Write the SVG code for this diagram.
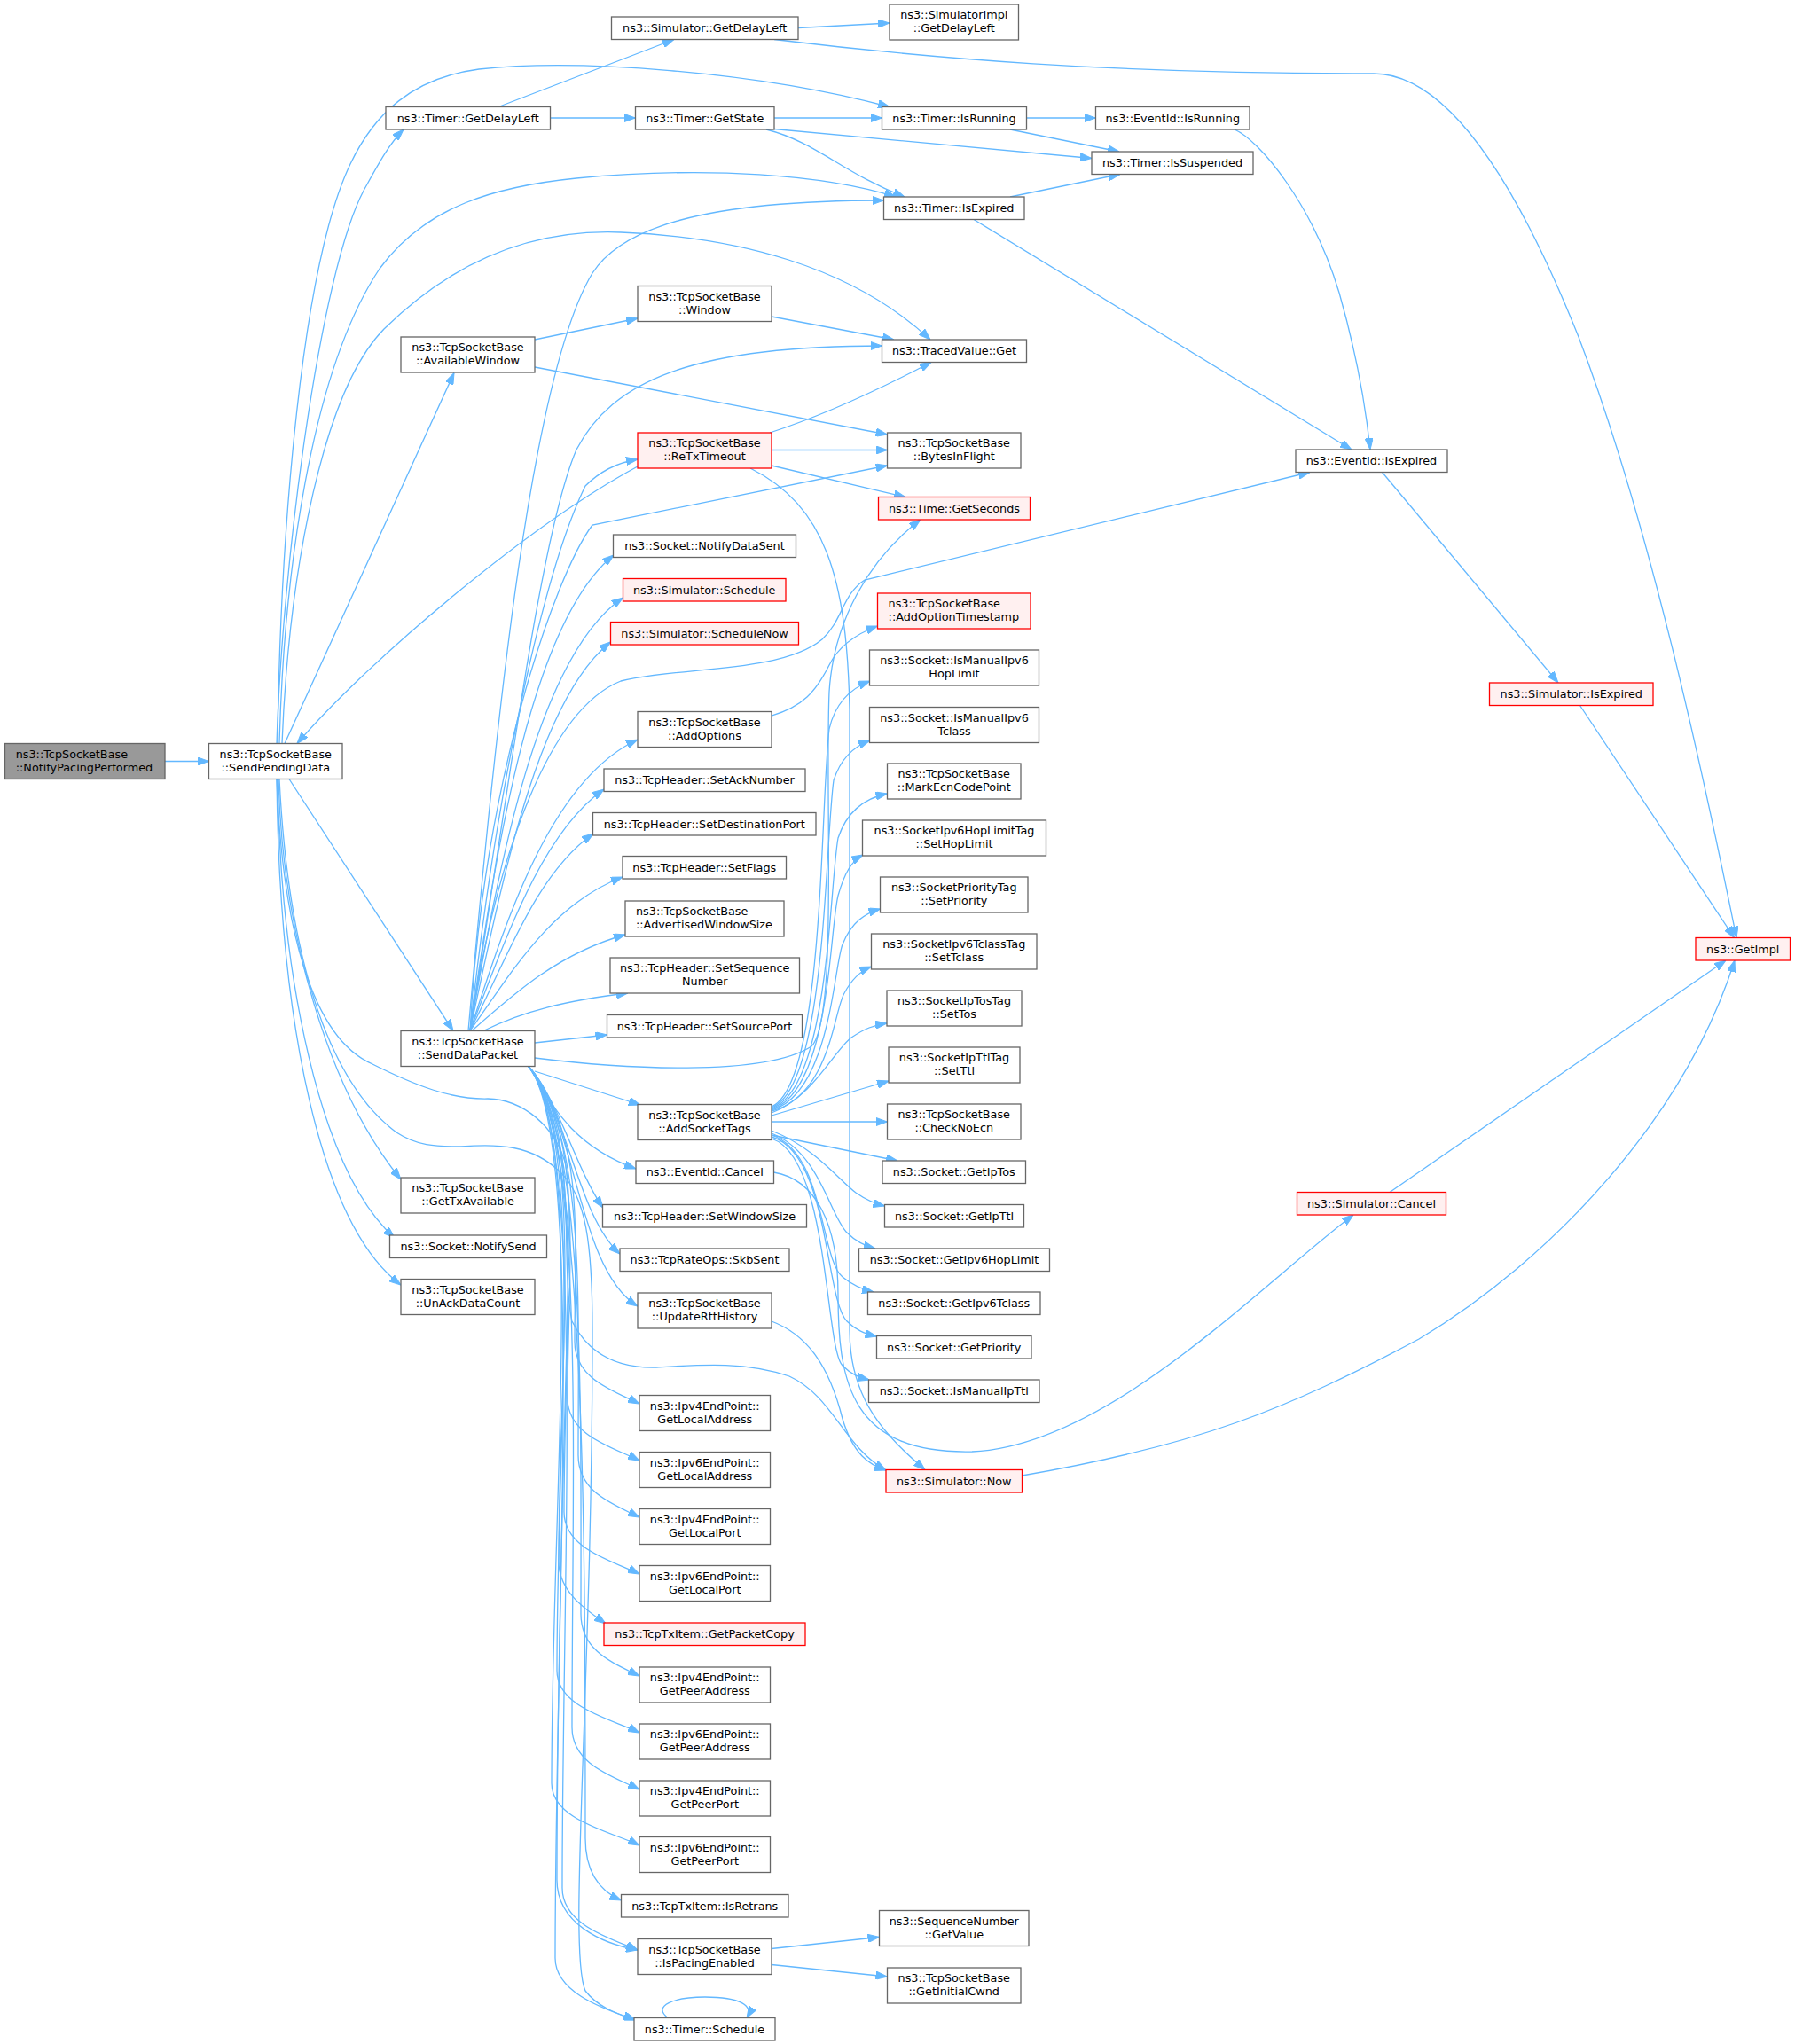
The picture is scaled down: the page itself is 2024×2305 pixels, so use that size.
<svg xmlns="http://www.w3.org/2000/svg" width="2024" height="2305" viewBox="0 0 2024 2305">
<style>
rect{stroke-width:1.3}
.node rect{fill:#ffffff;stroke:#666666}
.red rect{fill:#fff0f0;stroke:#ff0000}
.root rect{fill:#999999;stroke:#666666}
text{font-family:"DejaVu Sans","Liberation Sans",sans-serif;font-size:12.8px;text-anchor:middle;fill:#000000}
text.l{text-anchor:start}
#edges path{fill:none;stroke:#63b8ff;stroke-width:1.3;marker-end:url(#a)}
</style>
<defs>
<marker id="a" viewBox="0 0 13 9.4" refX="13" refY="4.7" markerWidth="13" markerHeight="9.4" markerUnits="userSpaceOnUse" orient="auto">
<path d="M0,0 L13,4.7 L0,9.4 z" fill="#63b8ff" stroke="#63b8ff" stroke-width="1"/>
</marker>
</defs>
<rect x="0" y="0" width="2024" height="2305" fill="#ffffff"/>
<g id="edges">
<path d="M186,858.5 L235.5,858.5"/>
<path d="M312,838.5 C 318,640 360,310 410,215 C 425,188 438,163 455,146"/>
<path d="M313,838.5 C 316,600 340,300 395,185 C 422,128 465,88 540,78 C 650,66 850,80 1003,120.5"/>
<path d="M315,838.5 C 320,650 350,420 428,303 C 480,232 560,210 650,201 C 800,187 930,197 1010,222"/>
<path d="M318,838.5 C 326,640 365,440 433,371 C 510,295 600,258 700,262 C 830,267 960,300 1049,383"/>
<path d="M321,838.5 L512,420.5"/>
<path d="M326,878.5 L511,1162.5"/>
<path d="M314,878.5 C 318,1050 370,1230 452,1330"/>
<path d="M313,878.5 C 316,1100 360,1320 445,1396"/>
<path d="M312,878.5 C 315,1150 360,1380 452,1449"/>
<path d="M312,878.5 C 318,1040 350,1170 420,1200 C 470,1225 510,1240 550,1239 C 590,1240 625,1270 637,1310 C 650,1360 628,1700 628,2120 C 628,2170 680,2192 719,2199"/>
<path d="M315,878.5 C 325,1080 370,1220 447,1277 C 470,1292 490,1293 520,1293 C 560,1290 600,1290 633,1323 C 660,1350 668,1400 668,1500 C 668,1900 640,2200 660,2245 C 675,2265 700,2272 717,2278"/>
<path d="M603,383 L719,359"/>
<path d="M603,414 L1000.5,490"/>
<path d="M870,357 L1008,383"/>
<path d="M868,488 C 930,468 990,440 1050,408.5"/>
<path d="M870,507.5 L1000.5,507.5"/>
<path d="M870,525 L1021,560.5"/>
<path d="M846,528 C 930,570 955,650 958,800 L958,1500 C 958,1580 1000,1620 1043,1657.5"/>
<path d="M719,526 C 600,590 420,740 335,838.5"/>
<path d="M562,120.5 L760,44.5"/>
<path d="M620.5,133 L716.5,133"/>
<path d="M873,133 L994.5,133"/>
<path d="M873,145.5 L1231,178.5"/>
<path d="M864,146 C 920,160 950,195 1020,222"/>
<path d="M1157.5,133 L1235.5,133"/>
<path d="M1139,146 L1262,171"/>
<path d="M1139,222 L1263,196.5"/>
<path d="M1098,247.5 L1524,507"/>
<path d="M1392,146 C 1420,158 1480,230 1510,330 C 1530,400 1540,460 1545,507"/>
<path d="M1558.5,532.5 L1757,770"/>
<path d="M1781.5,795.5 L1955.5,1057.5"/>
<path d="M1567,1344.5 L1946,1083"/>
<path d="M1152.5,1664 C 1350,1630 1450,1590 1600,1510 C 1750,1420 1900,1260 1956,1083"/>
<path d="M900,31.5 L1003,26"/>
<path d="M873,44.5 C 1050,66 1250,83 1549,83 C 1640,83 1720,230 1780,380 C 1860,590 1920,870 1958,1057.5"/>
<path d="M872.5,1322 C 920,1330 945,1380 945,1460 C 945,1560 960,1640 1096,1637 C 1250,1630 1420,1450 1526,1370"/>
<path d="M870,1490 C 910,1505 935,1540 950,1600 C 962,1640 980,1652 999,1658"/>
<path d="M870,807 C 905,797 920,780 935,750 C 945,730 965,715 989.5,706"/>
<path d="M870,2197.5 L991.5,2184.5"/>
<path d="M870,2215.5 L1000.5,2229"/>
<path d="M753,2275.5 C 735,2262 760,2252 795,2252 C 835,2252 850,2262 842,2275.5"/>
<path d="M528,1162.5 C 560,800 600,420 668,308 C 700,258 790,226 996.5,226"/>
<path d="M530,1162.5 C 575,880 610,600 650,507 C 690,430 780,390 994.5,390"/>
<path d="M530,1162.5 C 560,880 615,640 660,548 C 680,528 700,521 719,518"/>
<path d="M530,1162.5 C 545,880 625,650 668,592 L1000.5,525"/>
<path d="M530,1162.5 C 560,950 600,700 692,626"/>
<path d="M530,1162.5 C 562,980 605,740 702.5,674"/>
<path d="M530,1162.5 C 565,1000 605,790 688.5,724"/>
<path d="M530,1162.5 C 560,960 620,800 700,768 C 760,752 880,760 927,721 C 950,700 950,670 975,654 L1477,532.5"/>
<path d="M530,1162.5 C 570,1040 620,880 719,834"/>
<path d="M530,1162.5 C 570,1060 610,940 681,890"/>
<path d="M530,1162.5 C 572,1080 605,985 669,940"/>
<path d="M530,1162.5 C 575,1100 620,1020 702,989"/>
<path d="M532,1162.5 C 580,1120 630,1075 705,1054"/>
<path d="M545,1162.5 C 590,1140 640,1128 708,1120"/>
<path d="M603,1176 L684.5,1167"/>
<path d="M603,1193 C 700,1205 860,1215 915,1180 C 945,1150 930,900 935,780 C 940,700 980,630 1038,586"/>
<path d="M603,1208 L722,1246"/>
<path d="M596,1202.5 C 620,1240 640,1290 717,1318"/>
<path d="M596,1202.5 C 630,1240 650,1320 680,1362"/>
<path d="M596,1202.5 C 640,1250 650,1370 699,1414"/>
<path d="M596,1202.5 C 650,1260 650,1430 719,1473"/>
<path d="M596,1202.5 C 660,1280 648,1389 648,1513 C 648,1555 691,1568 721,1583"/>
<path d="M596,1202.5 C 660,1280 640,1427 640,1577 C 640,1619 691,1632 721,1647"/>
<path d="M596,1202.5 C 660,1280 652,1465 652,1641 C 652,1683 691,1696 721,1711"/>
<path d="M596,1202.5 C 660,1280 636,1504 636,1705 C 636,1747 691,1760 721,1775"/>
<path d="M596,1202.5 C 660,1280 630,1538 630,1761 C 630,1795 660,1815 683,1831"/>
<path d="M596,1202.5 C 660,1280 655,1573 655,1820 C 655,1862 691,1875 721,1890"/>
<path d="M596,1202.5 C 660,1280 628,1611 628,1884 C 628,1926 691,1939 721,1954"/>
<path d="M596,1202.5 C 660,1280 645,1650 645,1948 C 645,1990 691,2003 721,2018"/>
<path d="M596,1202.5 C 660,1280 622,1687 622,2011 C 622,2053 691,2066 721,2081"/>
<path d="M596,1202.5 C 660,1280 660,1725 660,2073 C 660,2110 675,2132 700.5,2143"/>
<path d="M596,1202.5 C 660,1280 634,1758 634,2129 C 634,2171 689,2186 719,2199"/>
<path d="M596,1202.5 C 660,1280 626,1806 626,2208 C 626,2250 690,2268 716,2278"/>
<path d="M596,1202.5 C 655,1270 630,1420 645,1490 C 665,1530 700,1543 740,1542 C 790,1539 840,1535 890,1552 C 940,1575 950,1630 999,1658"/>
<path d="M870,1248 C 930,1222 925,900 935,822 C 942,792 960,776 981,768"/>
<path d="M870,1249 C 932,1226 930,950 940,880 C 948,855 962,842 981,835"/>
<path d="M870,1250 C 935,1228 935,1000 945,945 C 955,915 975,900 1000.5,895"/>
<path d="M870,1251 C 936,1230 935,1050 945,1010 C 952,985 960,971 973,964"/>
<path d="M870,1252 C 936,1233 940,1090 950,1065 C 960,1040 975,1030 992.5,1025"/>
<path d="M870,1253 C 936,1236 940,1140 952,1120 C 960,1105 970,1095 982.5,1090"/>
<path d="M870,1255 C 918,1236 940,1185 960,1170 C 975,1160 985,1156 1000,1154"/>
<path d="M870,1258 L1002,1219"/>
<path d="M870,1265 L1000.5,1265"/>
<path d="M870,1280 L1012,1309"/>
<path d="M870,1275 C 920,1295 945,1330 965,1345 C 975,1352 985,1357 997.5,1360"/>
<path d="M870,1278 C 925,1300 935,1370 955,1390 C 965,1400 975,1405 987,1408"/>
<path d="M870,1280 C 930,1300 925,1420 950,1440 C 962,1450 972,1454 985,1457"/>
<path d="M870,1282 C 935,1300 930,1465 955,1490 C 965,1500 975,1504 988.5,1507"/>
<path d="M870,1284 C 935,1305 930,1520 950,1540 C 960,1550 968,1553 980,1556"/>
</g>
<g id="n0" class="node root"><rect x="5.5" y="838.5" width="180.5" height="40"/><text class="l" x="17.7" y="854.8">ns3::TcpSocketBase</text><text class="l" x="17.7" y="869.8">::NotifyPacingPerformed</text></g>
<g id="n1" class="node"><rect x="235.5" y="838.5" width="150.5" height="40"/><text x="310.75" y="854.8">ns3::TcpSocketBase</text><text x="310.75" y="869.8">::SendPendingData</text></g>
<g id="n2" class="node"><rect x="435" y="120.5" width="185.5" height="25.5"/><text x="527.75" y="137.5">ns3::Timer::GetDelayLeft</text></g>
<g id="n3" class="node"><rect x="452" y="380" width="151" height="40"/><text x="527.5" y="396.3">ns3::TcpSocketBase</text><text x="527.5" y="411.3">::AvailableWindow</text></g>
<g id="n4" class="node"><rect x="452" y="1162.5" width="151" height="40"/><text x="527.5" y="1178.8">ns3::TcpSocketBase</text><text x="527.5" y="1193.8">::SendDataPacket</text></g>
<g id="n5" class="node"><rect x="452" y="1328" width="151" height="40"/><text x="527.5" y="1344.3">ns3::TcpSocketBase</text><text x="527.5" y="1359.3">::GetTxAvailable</text></g>
<g id="n6" class="node"><rect x="439.5" y="1393" width="177" height="25.5"/><text x="528" y="1410">ns3::Socket::NotifySend</text></g>
<g id="n7" class="node"><rect x="452" y="1442.5" width="151" height="40"/><text x="527.5" y="1458.8">ns3::TcpSocketBase</text><text x="527.5" y="1473.8">::UnAckDataCount</text></g>
<g id="n8" class="node"><rect x="689.5" y="19" width="210.5" height="25.5"/><text x="794.75" y="36">ns3::Simulator::GetDelayLeft</text></g>
<g id="n9" class="node"><rect x="716.5" y="120.5" width="156.5" height="25.5"/><text x="794.75" y="137.5">ns3::Timer::GetState</text></g>
<g id="n10" class="node"><rect x="719" y="322.5" width="151" height="40"/><text x="794.5" y="338.8">ns3::TcpSocketBase</text><text x="794.5" y="353.8">::Window</text></g>
<g id="n11" class="node red"><rect x="719" y="488" width="151" height="40"/><text x="794.5" y="504.3">ns3::TcpSocketBase</text><text x="794.5" y="519.3">::ReTxTimeout</text></g>
<g id="n12" class="node"><rect x="691.5" y="603" width="206" height="25.5"/><text x="794.5" y="620">ns3::Socket::NotifyDataSent</text></g>
<g id="n13" class="node red"><rect x="702.5" y="652.5" width="183.5" height="25.5"/><text x="794.25" y="669.5">ns3::Simulator::Schedule</text></g>
<g id="n14" class="node red"><rect x="688.5" y="701.5" width="212" height="25.5"/><text x="794.5" y="718.5">ns3::Simulator::ScheduleNow</text></g>
<g id="n15" class="node"><rect x="719" y="802.5" width="151" height="40"/><text x="794.5" y="818.8">ns3::TcpSocketBase</text><text x="794.5" y="833.8">::AddOptions</text></g>
<g id="n16" class="node"><rect x="681" y="867" width="227" height="25.5"/><text x="794.5" y="884">ns3::TcpHeader::SetAckNumber</text></g>
<g id="n17" class="node"><rect x="668.5" y="916.5" width="251.5" height="25.5"/><text x="794.25" y="933.5">ns3::TcpHeader::SetDestinationPort</text></g>
<g id="n18" class="node"><rect x="702" y="965.5" width="184.5" height="25.5"/><text x="794.25" y="982.5">ns3::TcpHeader::SetFlags</text></g>
<g id="n19" class="node"><rect x="705" y="1016" width="179" height="40"/><text class="l" x="717" y="1032.3">ns3::TcpSocketBase</text><text class="l" x="717" y="1047.3">::AdvertisedWindowSize</text></g>
<g id="n20" class="node"><rect x="688" y="1080" width="213.5" height="40"/><text x="794.75" y="1096.3">ns3::TcpHeader::SetSequence</text><text x="794.75" y="1111.3">Number</text></g>
<g id="n21" class="node"><rect x="684.5" y="1144.5" width="220" height="25.5"/><text x="794.5" y="1161.5">ns3::TcpHeader::SetSourcePort</text></g>
<g id="n22" class="node"><rect x="719" y="1245.5" width="151" height="40"/><text x="794.5" y="1261.8">ns3::TcpSocketBase</text><text x="794.5" y="1276.8">::AddSocketTags</text></g>
<g id="n23" class="node"><rect x="717" y="1309" width="155.5" height="25.5"/><text x="794.75" y="1326">ns3::EventId::Cancel</text></g>
<g id="n24" class="node"><rect x="679.5" y="1358.5" width="230" height="25.5"/><text x="794.5" y="1375.5">ns3::TcpHeader::SetWindowSize</text></g>
<g id="n25" class="node"><rect x="699" y="1408" width="191" height="25.5"/><text x="794.5" y="1425">ns3::TcpRateOps::SkbSent</text></g>
<g id="n26" class="node"><rect x="719" y="1458" width="151" height="40"/><text x="794.5" y="1474.3">ns3::TcpSocketBase</text><text x="794.5" y="1489.3">::UpdateRttHistory</text></g>
<g id="n27" class="node"><rect x="721" y="1573.5" width="147.5" height="40"/><text x="794.75" y="1589.8">ns3::Ipv4EndPoint::</text><text x="794.75" y="1604.8">GetLocalAddress</text></g>
<g id="n28" class="node"><rect x="721" y="1637.5" width="147.5" height="40"/><text x="794.75" y="1653.8">ns3::Ipv6EndPoint::</text><text x="794.75" y="1668.8">GetLocalAddress</text></g>
<g id="n29" class="node"><rect x="721" y="1701.5" width="147.5" height="40"/><text x="794.75" y="1717.8">ns3::Ipv4EndPoint::</text><text x="794.75" y="1732.8">GetLocalPort</text></g>
<g id="n30" class="node"><rect x="721" y="1765.5" width="147.5" height="40"/><text x="794.75" y="1781.8">ns3::Ipv6EndPoint::</text><text x="794.75" y="1796.8">GetLocalPort</text></g>
<g id="n31" class="node red"><rect x="681" y="1830" width="227" height="25.5"/><text x="794.5" y="1847">ns3::TcpTxItem::GetPacketCopy</text></g>
<g id="n32" class="node"><rect x="721" y="1880" width="147.5" height="40"/><text x="794.75" y="1896.3">ns3::Ipv4EndPoint::</text><text x="794.75" y="1911.3">GetPeerAddress</text></g>
<g id="n33" class="node"><rect x="721" y="1944" width="147.5" height="40"/><text x="794.75" y="1960.3">ns3::Ipv6EndPoint::</text><text x="794.75" y="1975.3">GetPeerAddress</text></g>
<g id="n34" class="node"><rect x="721" y="2008" width="147.5" height="40"/><text x="794.75" y="2024.3">ns3::Ipv4EndPoint::</text><text x="794.75" y="2039.3">GetPeerPort</text></g>
<g id="n35" class="node"><rect x="721" y="2071.5" width="147.5" height="40"/><text x="794.75" y="2087.8">ns3::Ipv6EndPoint::</text><text x="794.75" y="2102.8">GetPeerPort</text></g>
<g id="n36" class="node"><rect x="700.5" y="2136.5" width="188.5" height="25.5"/><text x="794.75" y="2153.5">ns3::TcpTxItem::IsRetrans</text></g>
<g id="n37" class="node"><rect x="719" y="2186.5" width="151" height="40"/><text x="794.5" y="2202.8">ns3::TcpSocketBase</text><text x="794.5" y="2217.8">::IsPacingEnabled</text></g>
<g id="n38" class="node"><rect x="715" y="2275.5" width="159" height="25.5"/><text x="794.5" y="2292.5">ns3::Timer::Schedule</text></g>
<g id="n39" class="node"><rect x="1003" y="5" width="145.5" height="40"/><text x="1075.75" y="21.3">ns3::SimulatorImpl</text><text x="1075.75" y="36.3">::GetDelayLeft</text></g>
<g id="n40" class="node"><rect x="994.5" y="120.5" width="163" height="25.5"/><text x="1076" y="137.5">ns3::Timer::IsRunning</text></g>
<g id="n41" class="node"><rect x="996.5" y="222" width="158.5" height="25.5"/><text x="1075.75" y="239">ns3::Timer::IsExpired</text></g>
<g id="n42" class="node"><rect x="994.5" y="383" width="163" height="25.5"/><text x="1076" y="400">ns3::TracedValue::Get</text></g>
<g id="n43" class="node"><rect x="1000.5" y="488" width="150.5" height="40"/><text x="1075.75" y="504.3">ns3::TcpSocketBase</text><text x="1075.75" y="519.3">::BytesInFlight</text></g>
<g id="n44" class="node red"><rect x="990.5" y="560.5" width="171" height="25.5"/><text x="1076" y="577.5">ns3::Time::GetSeconds</text></g>
<g id="n45" class="node red"><rect x="989.5" y="669" width="172.5" height="40"/><text class="l" x="1001.6" y="685.3">ns3::TcpSocketBase</text><text class="l" x="1001.6" y="700.3">::AddOptionTimestamp</text></g>
<g id="n46" class="node"><rect x="980.5" y="733" width="191" height="40"/><text x="1076" y="749.3">ns3::Socket::IsManualIpv6</text><text x="1076" y="764.3">HopLimit</text></g>
<g id="n47" class="node"><rect x="980.5" y="797.5" width="191" height="40"/><text x="1076" y="813.8">ns3::Socket::IsManualIpv6</text><text x="1076" y="828.8">Tclass</text></g>
<g id="n48" class="node"><rect x="1000.5" y="861" width="150.5" height="40"/><text x="1075.75" y="877.3">ns3::TcpSocketBase</text><text x="1075.75" y="892.3">::MarkEcnCodePoint</text></g>
<g id="n49" class="node"><rect x="972.5" y="925" width="207" height="40"/><text x="1076" y="941.3">ns3::SocketIpv6HopLimitTag</text><text x="1076" y="956.3">::SetHopLimit</text></g>
<g id="n50" class="node"><rect x="992.5" y="989" width="166.5" height="40"/><text x="1075.75" y="1005.3">ns3::SocketPriorityTag</text><text x="1075.75" y="1020.3">::SetPriority</text></g>
<g id="n51" class="node"><rect x="982.5" y="1053" width="186.5" height="40"/><text x="1075.75" y="1069.3">ns3::SocketIpv6TclassTag</text><text x="1075.75" y="1084.3">::SetTclass</text></g>
<g id="n52" class="node"><rect x="1000" y="1117" width="152" height="40"/><text x="1076" y="1133.3">ns3::SocketIpTosTag</text><text x="1076" y="1148.3">::SetTos</text></g>
<g id="n53" class="node"><rect x="1002" y="1181" width="148" height="40"/><text x="1076" y="1197.3">ns3::SocketIpTtlTag</text><text x="1076" y="1212.3">::SetTtl</text></g>
<g id="n54" class="node"><rect x="1000.5" y="1245" width="150.5" height="40"/><text x="1075.75" y="1261.3">ns3::TcpSocketBase</text><text x="1075.75" y="1276.3">::CheckNoEcn</text></g>
<g id="n55" class="node"><rect x="995" y="1309" width="161.5" height="25.5"/><text x="1075.75" y="1326">ns3::Socket::GetIpTos</text></g>
<g id="n56" class="node"><rect x="997.5" y="1358.5" width="157" height="25.5"/><text x="1076" y="1375.5">ns3::Socket::GetIpTtl</text></g>
<g id="n57" class="node"><rect x="968.5" y="1408" width="215" height="25.5"/><text x="1076" y="1425">ns3::Socket::GetIpv6HopLimit</text></g>
<g id="n58" class="node"><rect x="978.5" y="1457" width="194.5" height="25.5"/><text x="1075.75" y="1474">ns3::Socket::GetIpv6Tclass</text></g>
<g id="n59" class="node"><rect x="988.5" y="1506.5" width="174.5" height="25.5"/><text x="1075.75" y="1523.5">ns3::Socket::GetPriority</text></g>
<g id="n60" class="node"><rect x="979.5" y="1556" width="192.5" height="25.5"/><text x="1075.75" y="1573">ns3::Socket::IsManualIpTtl</text></g>
<g id="n61" class="node red"><rect x="999" y="1657.5" width="153.5" height="25.5"/><text x="1075.75" y="1674.5">ns3::Simulator::Now</text></g>
<g id="n62" class="node"><rect x="991.5" y="2154.5" width="168.5" height="40"/><text x="1075.75" y="2170.8">ns3::SequenceNumber</text><text x="1075.75" y="2185.8">::GetValue</text></g>
<g id="n63" class="node"><rect x="1000.5" y="2219" width="150.5" height="40"/><text x="1075.75" y="2235.3">ns3::TcpSocketBase</text><text x="1075.75" y="2250.3">::GetInitialCwnd</text></g>
<g id="n64" class="node"><rect x="1235.5" y="120.5" width="173.5" height="25.5"/><text x="1322.25" y="137.5">ns3::EventId::IsRunning</text></g>
<g id="n65" class="node"><rect x="1231" y="171" width="182" height="25.5"/><text x="1322" y="188">ns3::Timer::IsSuspended</text></g>
<g id="n66" class="node"><rect x="1461" y="507" width="171" height="25.5"/><text x="1546.5" y="524">ns3::EventId::IsExpired</text></g>
<g id="n67" class="node red"><rect x="1462.5" y="1344.5" width="168" height="25.5"/><text x="1546.5" y="1361.5">ns3::Simulator::Cancel</text></g>
<g id="n68" class="node red"><rect x="1679.5" y="770" width="184.5" height="25.5"/><text x="1771.75" y="787">ns3::Simulator::IsExpired</text></g>
<g id="n69" class="node red"><rect x="1912" y="1057.5" width="106.5" height="25.5"/><text x="1965.25" y="1074.5">ns3::GetImpl</text></g>
</svg>
